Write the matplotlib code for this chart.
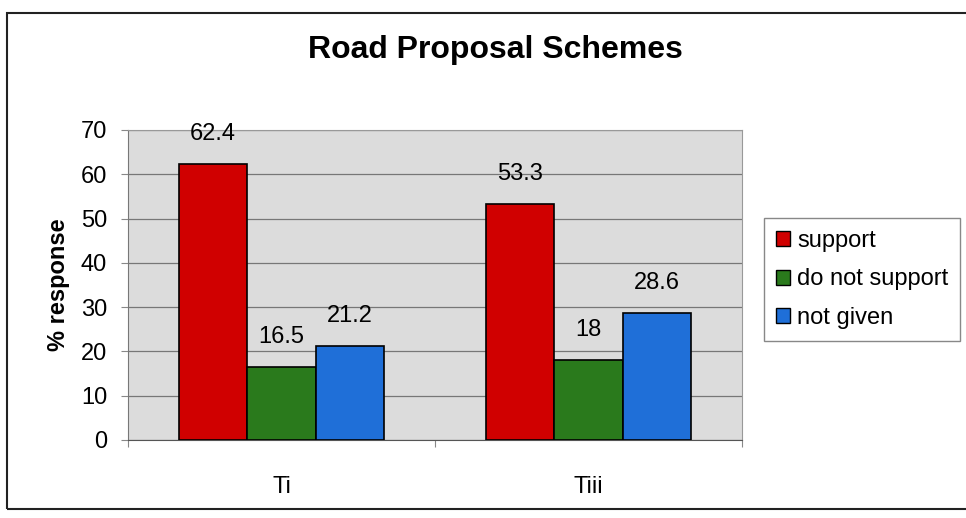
import numpy as np
import matplotlib.pyplot as plt
from matplotlib.patches import Patch, Rectangle

categories = ['Ti', 'Tiii']
series = ['support', 'do not support', 'not given']
support = [62.4, 53.3]
not_support = [16.5, 18]
not_given = [21.2, 28.6]
colors = ['#d00000', '#2a7a1c', '#1f6fd8']

plt.rcParams['font.family'] = ['Liberation Sans', 'DejaVu Sans']

fig = plt.figure(figsize=(9.66, 5.18), dpi=100)
fig.patch.set_facecolor('white')

# outer chart frame
fig.patches.append(Rectangle((7 / 966, 1 - 509 / 518), 1.0, (509 - 13) / 518,
                             transform=fig.transFigure, fill=False,
                             edgecolor='#222222', linewidth=1.5))

ax = fig.add_axes([128 / 966, 1 - 440 / 518, 614 / 966, 310 / 518])
ax.set_facecolor('#dcdcdc')

x = np.arange(len(categories))
w = 0.223
for i, (vals, col) in enumerate(zip([support, not_support, not_given], colors)):
    pos = x + (i - 1) * w
    ax.bar(pos, vals, width=w, color=col, edgecolor='black', linewidth=1.2, zorder=3)
    for p, v in zip(pos, vals):
        ax.text(p, v + 4.3, f'{v:g}', ha='center', va='bottom', fontsize=17, zorder=4)

ax.set_xlim(-0.5, 1.5)
ax.set_ylim(0, 70)
ax.set_yticks(range(0, 71, 10))
ax.set_xticks([-0.5, 0.5, 1.5])
ax.set_xticklabels([])
ax.set_xticks(x, minor=True)
ax.set_xticklabels(categories, minor=True, fontsize=17)
ax.tick_params(axis='x', which='minor', length=0, pad=26)
ax.tick_params(axis='x', which='major', length=5, color='#888888')
ax.tick_params(axis='y', labelsize=17, length=5, color='#888888', pad=10)
ax.grid(axis='y', color='#777777', linewidth=0.9, zorder=1)
for s in ['top', 'right']:
    ax.spines[s].set_color('#999999')
ax.spines['left'].set_color('#777777')
ax.spines['bottom'].set_color('#555555')
ax.set_ylabel('% response', fontsize=17, fontweight='bold', labelpad=8)

fig.text(495 / 966, 1 - 50 / 518, 'Road Proposal Schemes', ha='center', va='center',
         fontsize=23, fontweight='bold')

handles = [Patch(facecolor=c, edgecolor='black', label=s) for c, s in zip(colors, series)]
leg = fig.legend(handles=handles, loc='upper left',
                 bbox_to_anchor=(764 / 966, 1 - 218 / 518), fontsize=17,
                 handlelength=0.6, handleheight=0.6, handletextpad=0.3,
                 labelspacing=0.7, borderpad=0.5, borderaxespad=0,
                 fancybox=False, framealpha=1)
leg.get_frame().set_edgecolor('#888888')

fig.savefig('out.png', dpi=100)
